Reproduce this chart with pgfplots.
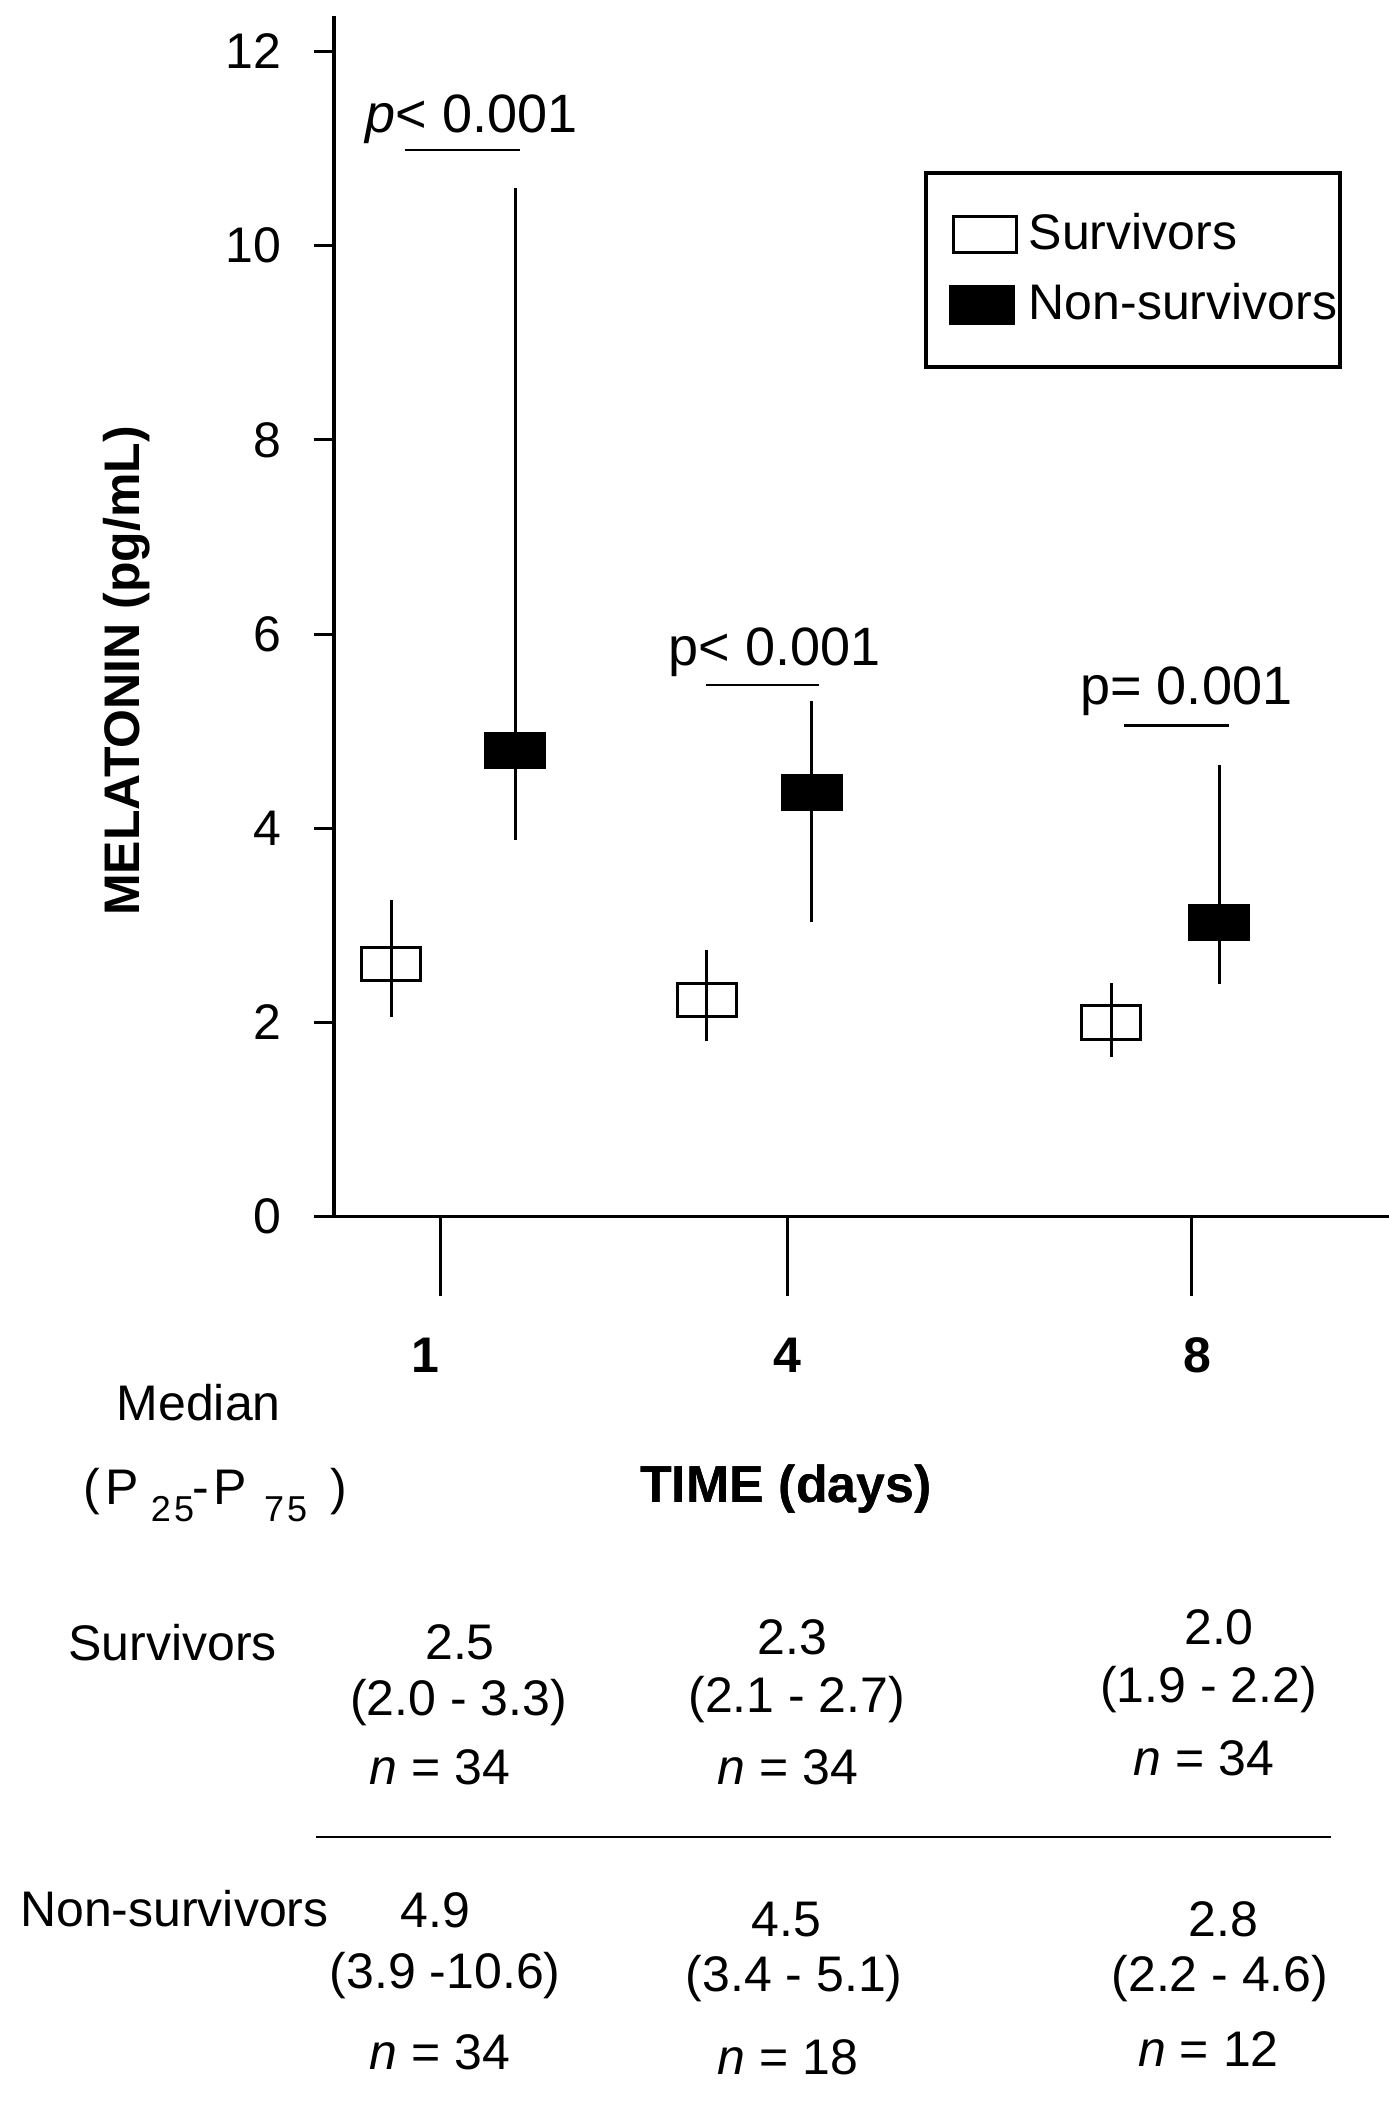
\documentclass[border=0pt]{standalone}
\usepackage{fontspec}
\setmainfont{Liberation Sans}
\setsansfont{Liberation Sans}
\usepackage{pgfplots}
\pgfplotsset{compat=1.18}
\usepackage{pgfplotstable}

% x = horizontal position of each marker (group layout), med = marker centre, lo/hi = whisker ends
\pgfplotstableread{
x med lo hi
391.3 2.60 2.06 3.26
706.5 2.23 1.81 2.75
1111.1 2.00 1.64 2.41
}\surv
\pgfplotstableread{
x med lo hi
515.3 4.80 3.88 10.59
811.9 4.37 3.03 5.31
1219.1 3.03 2.40 4.65
}\nonsurv

\newcommand{\f}{\fontsize{10}{12}\selectfont}
\newcommand{\fp}{\fontsize{10.8}{13}\selectfont}

\begin{document}
\begin{tikzpicture}
\useasboundingbox (0,0) rectangle (277.8pt,-423pt);
\begin{axis}[
  at={(66.8pt,-243.34pt)}, anchor=south west,
  x=0.2pt, y=19.422pt,
  xmin=334, xmax=1389, ymin=0, ymax=12.36,
  axis x line=bottom, axis y line=left,
  axis line style={-, line width=0.7pt},
  clip=false,
  tick align=outside,
  ytick={0,2,4,6,8,10,12},
  xtick={440,787,1191.7},
  xticklabels={{\makebox[0pt]{1\hspace{6pt}}},{4},{\makebox[0pt]{\hspace{2.2pt}8}}},
  major tick length=4pt,
  xtick style={/pgfplots/major tick length=15.8pt, line width=0.6pt, black},
  ytick style={line width=0.6pt, black},
  /pgf/number format/assume math mode=true,
  tick label style={font=\f},
  xticklabel style={font=\f\bfseries, anchor=base, yshift=-27.15pt},
  yticklabel style={xshift=-3.1pt},
  xlabel={TIME (days)},
  ylabel={MELATONIN (pg/mL)},
  every axis x label/.style={at={(axis cs:786,-2.945)}, anchor=base, font=\fontsize{10.4}{12}\selectfont\bfseries},
  every axis y label/.style={at={(axis cs:126.6,5.62)}, rotate=90, anchor=center, font=\f\bfseries},
  legend cell align=left,
  legend style={at={(axis cs:924,10.765)}, anchor=north west, draw=black, line width=0.8pt,
    inner xsep=0.65pt, inner ysep=7.9pt, row sep=5.35pt, column sep=2.25pt,
    nodes={inner sep=0pt, font=\f}},
]
\addplot[black, only marks, mark=square, mark size=5.9pt,
  mark options={yscale=0.568, line width=0.6pt, draw=black},
  legend image code/.code={\path (0pt,0pt); \draw[line width=0.6pt, fill=white] (4.35pt,-3.65pt) rectangle ++(12.6pt,7.3pt);},
  error bars/.cd, y dir=both, y explicit, error mark=none,
  error bar style={line width=0.6pt, black}]
  table[x=x, y=med, y error plus expr=\thisrow{hi}-\thisrow{med}, y error minus expr=\thisrow{med}-\thisrow{lo}] {\surv};
\addlegendentry{Survivors}
\addplot[black, only marks, mark=square*, mark size=5.9pt,
  mark options={yscale=0.568, line width=0.6pt, draw=black, fill=black},
  legend image code/.code={\path (0pt,0pt); \draw[line width=0.6pt, fill=black] (3.85pt,-3.65pt) rectangle ++(12.6pt,7.3pt);},
  error bars/.cd, y dir=both, y explicit, error mark=none,
  error bar style={line width=0.6pt, black}]
  table[x=x, y=med, y error plus expr=\thisrow{hi}-\thisrow{med}, y error minus expr=\thisrow{med}-\thisrow{lo}] {\nonsurv};
\addlegendentry{Non-survivors}
\end{axis}

\begin{scope}[x=0.2pt, y=-0.2pt, every node/.style={font=\f, inner sep=0pt, anchor=base}]
% p-values
\node[font=\fp] at (471.4,132.7) {\textit{p}< 0.001};
\draw[line width=0.5pt] (405.5,150.1) -- (519.7,150.1);
\node[font=\fp] at (774.7,666) {p< 0.001};
\draw[line width=0.5pt] (705.6,685.1) -- (819,685.1);
\node[font=\fp] at (1186.3,705) {p= 0.001};
\draw[line width=0.5pt] (1124.4,725.7) -- (1228.9,725.7);
% table
\node at (198.7,1420.7) {Median};
\node[anchor=base west] at (83,1505) {\rlap{(}\hspace{4.4pt}\rlap{P}\hspace{9pt}\rlap{\raisebox{-3.3pt}{\fontsize{7.2}{8}\selectfont 2\hspace{0.6pt}5}}\hspace{8.3pt}\rlap{-}\hspace{4.3pt}\rlap{P}\hspace{10pt}\rlap{\raisebox{-3.3pt}{\fontsize{7.2}{8}\selectfont 7\hspace{0.6pt}5}}\hspace{13.4pt})};
\node[font=\fontsize{10.4}{12}\selectfont\bfseries] at (786,1502.7) {TIME (days)};
\node at (172.6,1660.2) {Survivors};
\node at (460,1659.7) {2.5};
\node at (458.6,1715.8) {(2.0 - 3.3)};
\node at (440,1784.4) {\textit{n} = 34};
\node at (792.4,1655) {2.3};
\node at (796.8,1712.2) {(2.1 - 2.7)};
\node at (788,1784.4) {\textit{n} = 34};
\node at (1219,1644.6) {2.0};
\node at (1208.5,1702.8) {(1.9 - 2.2)};
\node at (1204,1775.6) {\textit{n} = 34};
\draw[line width=0.5pt] (316,1836.9) -- (1330.7,1836.9);
\node at (174.4,1926.3) {Non-survivors};
\node at (435.6,1927.9) {4.9};
\node at (445.3,1988.7) {(3.9 -10.6)};
\node at (440,2069.2) {\textit{n} = 34};
\node at (786.2,1936.7) {4.5};
\node at (794.2,1991.3) {(3.4 - 5.1)};
\node at (788,2074.4) {\textit{n} = 18};
\node at (1223.6,1936.7) {2.8};
\node at (1220,1991.3) {(2.2 - 4.6)};
\node at (1208.5,2066.6) {\textit{n} = 12};
\end{scope}
\end{tikzpicture}
\end{document}
